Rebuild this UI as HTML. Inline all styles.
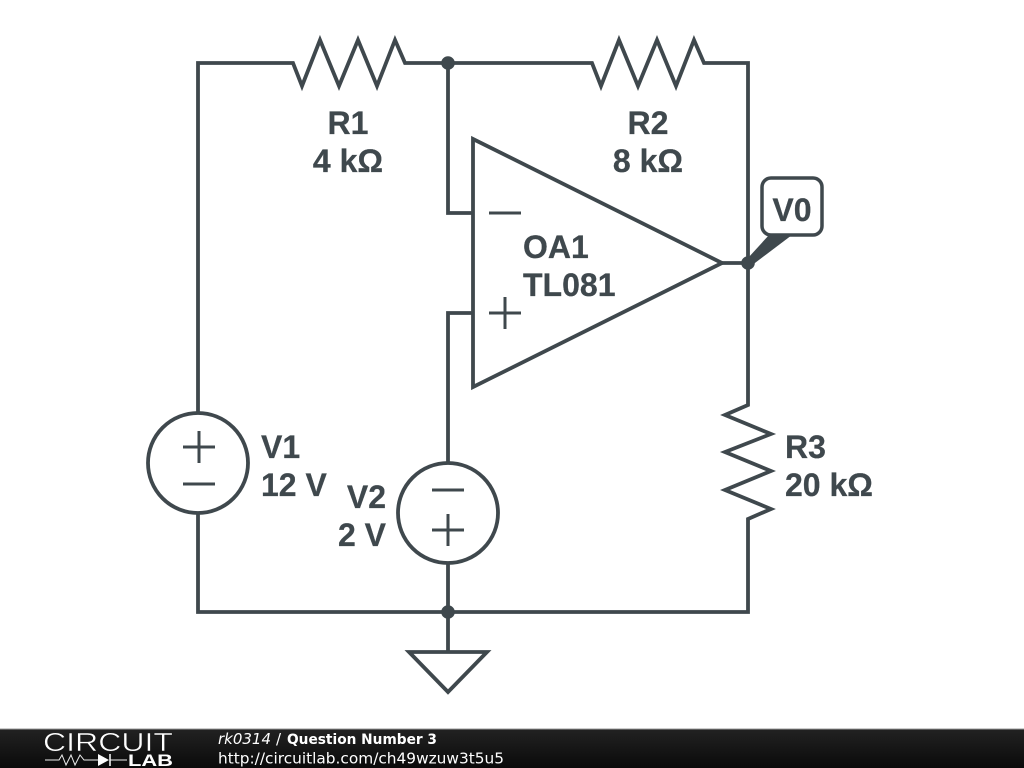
<!DOCTYPE html>
<html><head><meta charset="utf-8"><style>
html,body{margin:0;padding:0;background:#fff;width:1024px;height:768px;overflow:hidden}
svg{display:block}
</style></head><body>
<svg width="1024" height="768" viewBox="0 0 1024 768" xmlns="http://www.w3.org/2000/svg">
<defs><linearGradient id="g" x1="0" y1="0" x2="0" y2="1"><stop offset="0" stop-color="#222"/><stop offset="1" stop-color="#0a0a0a"/></linearGradient></defs>
<g fill="none" stroke="#3f484d" stroke-width="3.8" stroke-linejoin="miter" stroke-linecap="butt">
<path d="M198 412V63H293L302 86L320 40L339 86L358 40L377 86L395 40L405 63H592L601 86L619 40L638 86L657 40L676 86L694 40L704 63H748V405L725 415L771 434L725 452L771 471L725 490L771 509L748 519V612H198V514"/>
<path d="M448 63V213H473M473 313H448V462M448 563V652M722 263H748"/>
<path d="M473 139V387L722 263Z"/>
<circle cx="198" cy="463" r="50"/>
<circle cx="448" cy="513" r="50"/>
<path d="M409 652H487L448 692Z"/>
<rect x="762" y="178" width="60" height="57" rx="9" stroke-width="3.5"/>
</g>
<path d="M489 213H521M489 313H521M505 297V329M183 447H215M199 431V463M183 484H215M432 490H464M432 530H464M448 514V546" fill="none" stroke="#3f484d" stroke-width="3"/>
<path d="M748 258L769 235H792L751 266Z" fill="#3f484d"/>
<g fill="#3f484d"><circle cx="448" cy="63" r="6.8"/><circle cx="448" cy="612" r="6.8"/><circle cx="748" cy="263" r="6.8"/></g>
<g font-family="'Liberation Sans',sans-serif" font-weight="700" font-size="32" fill="#3f484d" stroke="#3f484d" stroke-width=".25">
<text x="348" y="134" text-anchor="middle">R1</text>
<text x="348" y="172" text-anchor="middle">4 kΩ</text>
<text x="648" y="134" text-anchor="middle">R2</text>
<text x="648" y="172" text-anchor="middle">8 kΩ</text>
<text x="523" y="258">OA1</text>
<text x="523" y="296">TL081</text>
<text x="261" y="458">V1</text>
<text x="261" y="496">12 V</text>
<text x="386" y="508" text-anchor="end">V2</text>
<text x="386" y="546" text-anchor="end">2 V</text>
<text x="785" y="458">R3</text>
<text x="785" y="496">20 kΩ</text>
<text x="792" y="221" text-anchor="middle">V0</text>
</g>
<rect x="0" y="729" width="1024" height="39" fill="url(#g)"/>
<rect x="0" y="728.500" width="1024" height="1" fill="#999"/>
<g font-family="'DejaVu Sans',sans-serif" fill="#fff">
<text x="218" y="744" font-size="15" font-style="italic" textLength="53" lengthAdjust="spacingAndGlyphs">rk0314</text>
<text x="276" y="744" font-size="15">/</text>
<text x="287" y="744" font-size="14.600" font-weight="700" textLength="150" lengthAdjust="spacingAndGlyphs">Question Number 3</text>
<text x="218" y="763.500" font-size="15.400" textLength="286" lengthAdjust="spacingAndGlyphs">http://circuitlab.com/ch49wzuw3t5u5</text>
</g>
<text x="43" y="751" font-family="'Liberation Sans',sans-serif" font-size="25.500" fill="#fff" stroke="#181818" stroke-width=".5" paint-order="fill" textLength="130" lengthAdjust="spacingAndGlyphs">CIRCUIT</text>
<text x="128" y="766" font-family="'Liberation Sans',sans-serif" font-weight="700" font-size="16.500" fill="#fff" textLength="45" lengthAdjust="spacingAndGlyphs">LAB</text>
<path d="M45 760H59L62 755L66 765L71 755L75 765L80 755L84 760H98M110 760H127" fill="none" stroke="#eee" stroke-width="1"/>
<path d="M98 754V766L109 760Z" fill="#fff"/><path d="M110 754V766" stroke="#fff" stroke-width="1.500"/>
</svg>
</body></html>
